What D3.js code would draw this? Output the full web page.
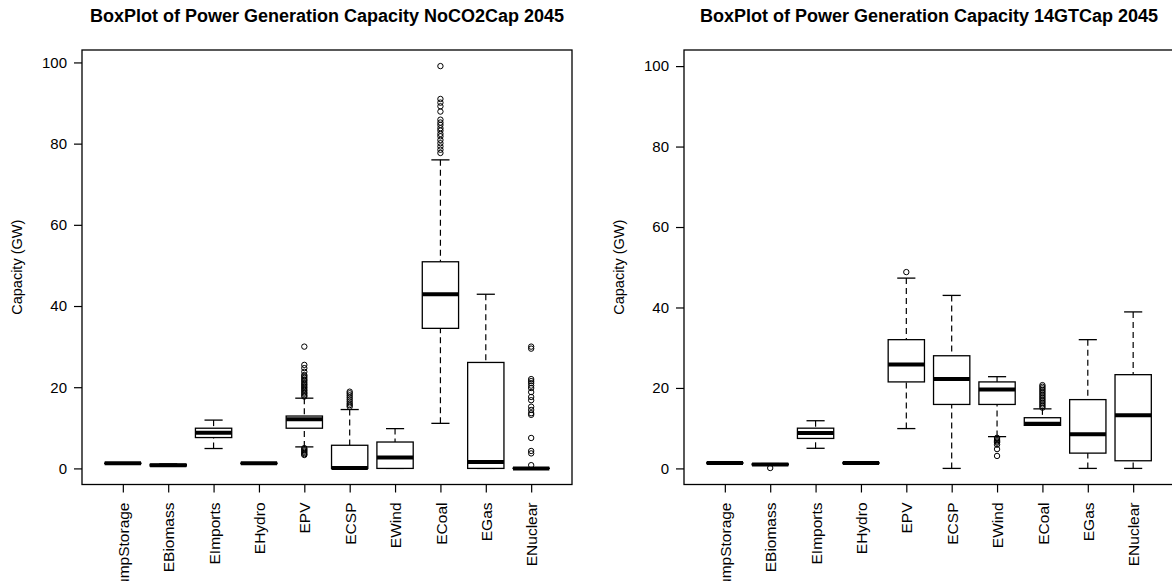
<!DOCTYPE html>
<html>
<head>
<meta charset="utf-8">
<script src="https://cdn.jsdelivr.net/npm/d3@7"></script>
<style>
  body { margin: 0; background: #fff; }
  svg { display: block; background: #fff; }
  text { font-family: "Liberation Sans", Arial, Helvetica, sans-serif; fill: #000; }
</style>
</head>
<body>
<svg id="chart" width="1172" height="581"></svg>
<script>
// Technology categories shown on both panels
const categories = ["EPumpStorage", "EBiomass", "EImports", "EHydro", "EPV",
                    "ECSP", "EWind", "ECoal", "EGas", "ENuclear"];
const categoryLabels = ["EPumpStorage", "EBiomass", "EImports", "EHydro", "EPV",
                        "ECSP", "EWind", "ECoal", "EGas", "ENuclear"];

const yTicks = [0, 20, 40, 60, 80, 100];
const yLabel = "Capacity (GW)";

// --- Scenario: no CO2 cap ---
const noCO2Title = "BoxPlot of Power Generation Capacity NoCO2Cap 2045";
// [lower whisker, Q1, median, Q3, upper whisker] in GW
const noCO2Stats = [
  [1.15, 1.2, 1.25, 1.3, 1.35],
  [0.5, 0.6, 0.8, 1.0, 1.1],
  [4.9, 7.6, 8.8, 9.9, 11.9],
  [1.15, 1.2, 1.25, 1.3, 1.35],
  [5.3, 9.9, 12.1, 12.9, 17.3],
  [0, 0, 0.1, 5.7, 14.5],
  [0, 0, 2.7, 6.5, 9.8],
  [11.1, 34.5, 42.9, 50.9, 76.0],
  [0, 0, 1.6, 26.1, 42.9],
  [0, 0, 0, 0.05, 0.1]
];
const noCO2Outliers = [
  [],
  [],
  [],
  [],
  [30.0, 25.5, 24.7, 23.8, 23.0, 22.7, 22.3, 21.9, 21.6, 21.2, 20.8, 20.5, 20.1,
   19.8, 19.4, 19.1, 18.7, 18.4, 18.0, 17.7, 5.0, 4.7, 4.4, 4.1, 3.8, 3.5, 3.3],
  [18.9, 18.5, 18.0, 17.5, 17.0, 16.5, 16.0, 15.6, 15.2],
  [],
  [99.1, 91.0, 90.1, 89.2, 87.9, 85.9, 85.2, 84.6, 83.8, 83.2, 82.4, 81.8, 80.9,
   80.1, 79.3, 78.5, 77.7],
  [],
  [30.0, 29.5, 22.0, 21.5, 21.0, 20.4, 19.8, 18.8, 17.6, 16.8, 15.2, 14.4, 13.6,
   13.2, 7.5, 4.3, 3.7, 0.8]
];

// --- Scenario: 14 Gt CO2 cap ---
const gtTitle = "BoxPlot of Power Generation Capacity 14GTCap 2045";
const gtYlim = [0, 100];
const gtStats = [
  [1.25, 1.3, 1.35, 1.4, 1.45],
  [0.8, 0.9, 1.0, 1.1, 1.2],
  [5.0, 7.45, 8.8, 10.0, 11.85],
  [1.25, 1.3, 1.35, 1.4, 1.45],
  [9.9, 21.5, 25.8, 32.0, 47.3],
  [0, 15.9, 22.2, 28.0, 43.0],
  [7.9, 15.9, 19.6, 21.5, 22.8],
  [10.7, 10.7, 11.1, 12.6, 14.8],
  [0, 3.8, 8.5, 17.1, 32.0],
  [0, 1.9, 13.2, 23.3, 38.9]
];
const gtOutliers = [
  [],
  [0.1],
  [],
  [],
  [48.8],
  [],
  [7.6, 7.3, 7.0, 6.7, 6.4, 5.9, 4.8, 3.1],
  [20.7, 20.3, 19.9, 19.5, 19.1, 18.7, 18.3, 17.9, 17.5, 17.1, 16.7, 16.3,
   15.9, 15.5, 15.1],
  [],
  []
];

const svg = d3.select("#chart");
const plotTop = 50, plotBottom = 484.5;

function drawPanel(cfg) {
  const g = svg.append("g");
  const { left, right } = cfg;

  // y range padded by 4% on both sides, as in base graphics
  let lim = cfg.ylim;
  if (!lim) {
    const all = cfg.stats.flat().concat(cfg.outliers.flat());
    lim = d3.extent(all);
  }
  const pad = (lim[1] - lim[0]) * 0.04;
  const y = d3.scaleLinear().domain([lim[0] - pad, lim[1] + pad]).range([plotBottom, plotTop]);

  const x = d3.scalePoint().domain(categories).range([left, right]).padding(0.9);
  const boxW = x.step() * 0.8;

  // title
  g.append("text")
    .attr("x", (left + right) / 2)
    .attr("y", 22)
    .attr("text-anchor", "middle")
    .style("font-weight", "bold")
    .style("font-size", "18px")
    .text(cfg.title);

  // y axis
  const yAxis = g.append("g")
    .attr("transform", `translate(${left},0)`)
    .call(d3.axisLeft(y).tickValues(yTicks).tickSize(8).tickPadding(7).tickFormat(d3.format("d")));
  yAxis.select(".domain").remove();
  yAxis.selectAll("line").attr("stroke", "#000").attr("stroke-width", 1.2);
  yAxis.selectAll("text").style("font-size", "15px").attr("font-family", null).attr("fill", "#000");

  // x axis with vertical labels
  const xAxis = g.append("g")
    .attr("transform", `translate(0,${plotBottom})`)
    .call(d3.axisBottom(x).tickSize(8).tickFormat((d, i) => categoryLabels[i]));
  xAxis.select(".domain").remove();
  xAxis.selectAll("line").attr("stroke", "#000").attr("stroke-width", 1.2);
  xAxis.selectAll("text")
    .style("font-size", "15.5px")
    .attr("font-family", null)
    .attr("fill", "#000")
    .attr("transform", "rotate(-90)")
    .attr("text-anchor", "end")
    .attr("x", -18)
    .attr("y", 0)
    .attr("dy", "0.36em");

  // y axis title
  g.append("text")
    .attr("transform", `translate(${left - 60},${(plotTop + plotBottom) / 2}) rotate(-90)`)
    .attr("text-anchor", "middle")
    .style("font-size", "14.5px")
    .text(yLabel);

  // boxes
  const boxes = g.append("g").selectAll("g.box")
    .data(categories.map((c, i) => ({ c, s: cfg.stats[i], o: cfg.outliers[i] })))
    .join("g").attr("class", "box");

  boxes.each(function (d) {
    const bx = d3.select(this);
    const cx = x(d.c);
    const [lo, q1, med, q3, hi] = d.s;

    // whiskers (drawn from whisker end toward box)
    [[lo, q1], [hi, q3]].forEach(([a, b]) => {
      if (a !== b) {
        bx.append("line")
          .attr("x1", cx).attr("x2", cx)
          .attr("y1", y(a)).attr("y2", y(b))
          .attr("stroke", "#000").attr("stroke-width", 1.2)
          .attr("stroke-dasharray", "6,4");
      }
    });
    // staples
    [lo, hi].forEach(v => {
      bx.append("line")
        .attr("x1", cx - boxW / 4).attr("x2", cx + boxW / 4)
        .attr("y1", y(v)).attr("y2", y(v))
        .attr("stroke", "#000").attr("stroke-width", 1.3);
    });
    // box
    bx.append("rect")
      .attr("x", cx - boxW / 2)
      .attr("width", boxW)
      .attr("y", y(q3))
      .attr("height", Math.max(0, y(q1) - y(q3)))
      .attr("fill", "#fff")
      .attr("stroke", "#000")
      .attr("stroke-width", 1.3);
    // median
    bx.append("line")
      .attr("x1", cx - boxW / 2).attr("x2", cx + boxW / 2)
      .attr("y1", y(med)).attr("y2", y(med))
      .attr("stroke", "#000").attr("stroke-width", 4);
    // outliers
    bx.selectAll("circle").data(d.o).join("circle")
      .attr("cx", cx).attr("cy", v => y(v))
      .attr("r", 2.7)
      .attr("fill", "none")
      .attr("stroke", "#000")
      .attr("stroke-width", 1);
  });

  // plot frame
  g.append("rect")
    .attr("x", left).attr("y", plotTop)
    .attr("width", right - left).attr("height", plotBottom - plotTop)
    .attr("fill", "none").attr("stroke", "#000").attr("stroke-width", 1.3);
}

drawPanel({ left: 82, right: 572, title: noCO2Title, stats: noCO2Stats, outliers: noCO2Outliers });
drawPanel({ left: 684, right: 1174, title: gtTitle, stats: gtStats, outliers: gtOutliers, ylim: gtYlim });
</script>
</body>
</html>
